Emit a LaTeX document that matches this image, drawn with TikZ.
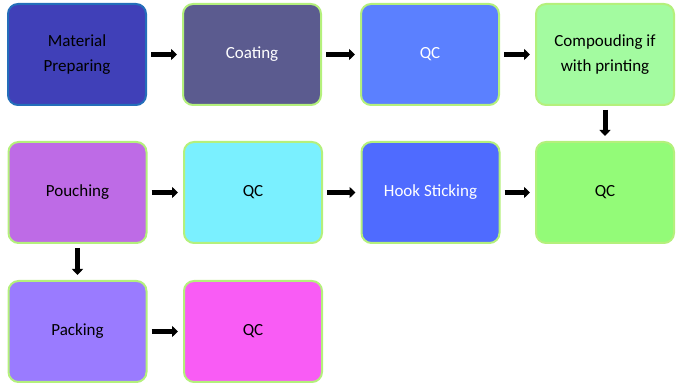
\documentclass[tikz,border=0pt]{standalone}
\usepackage{fontspec}
\setmainfont{Carlito}
\usetikzlibrary{arrows.meta,positioning}
\definecolor{matblue}{RGB}{64,64,184}
\definecolor{matedge}{RGB}{36,110,186}
\definecolor{glow}{RGB}{180,240,124}
\definecolor{slate}{RGB}{91,91,143}
\definecolor{qcblue}{RGB}{91,128,255}
\definecolor{palegreen}{RGB}{163,251,160}
\definecolor{violet}{RGB}{190,107,230}
\definecolor{cyanish}{RGB}{122,240,255}
\definecolor{hookblue}{RGB}{79,107,255}
\definecolor{qcgreen}{RGB}{147,251,120}
\definecolor{lavender}{RGB}{154,123,255}
\definecolor{pinkish}{RGB}{249,92,245}
\tikzset{
  stepbox/.style={draw=glow, line width=2pt, rounded corners=10pt,
    minimum width=138pt, minimum height=101pt, align=center,
    font=\fontsize{17}{25}\selectfont, text=black},
  flow/.style={line width=5pt, -{Triangle[length=6pt,width=11pt]},
    shorten <=4pt, shorten >=5pt}
}
\begin{document}
\begin{tikzpicture}[x=1pt,y=1pt]
  \useasboundingbox (0,0) rectangle (680,387);
  % first row
  \node[stepbox, fill=matblue, draw=matedge] (prep) at (77,332.5) {Material\\Preparing};
  \node[stepbox, fill=slate, text=white] (coat) at (252,332.5) {Coating};
  \node[stepbox, fill=qcblue, text=white] (qca) at (430,332.5) {QC};
  \node[stepbox, fill=palegreen] (comp) at (605,332.5) {Compouding if\\with printing};
  % second row
  \node[stepbox, fill=violet] (pouch) at (77.5,194.5) {Pouching};
  \node[stepbox, fill=cyanish] (qcb) at (253,194.5) {QC};
  \node[stepbox, fill=hookblue, text=white] (hook) at (430.5,194.5) {Hook Sticking};
  \node[stepbox, fill=qcgreen] (qcc) at (605,194.5) {QC};
  % third row
  \node[stepbox, fill=lavender] (pack) at (77.5,55.5) {Packing};
  \node[stepbox, fill=pinkish] (qcd) at (253,55.5) {QC};
  % arrows
  \draw[flow] (prep) -- (coat);
  \draw[flow] (coat) -- (qca);
  \draw[flow] (qca) -- (comp);
  \draw[flow] (comp) -- (qcc);
  \draw[flow] (pouch) -- (qcb);
  \draw[flow] (qcb) -- (hook);
  \draw[flow] (hook) -- (qcc);
  \draw[flow] (pouch) -- (pack);
  \draw[flow] (pack) -- (qcd);
\end{tikzpicture}
\end{document}
